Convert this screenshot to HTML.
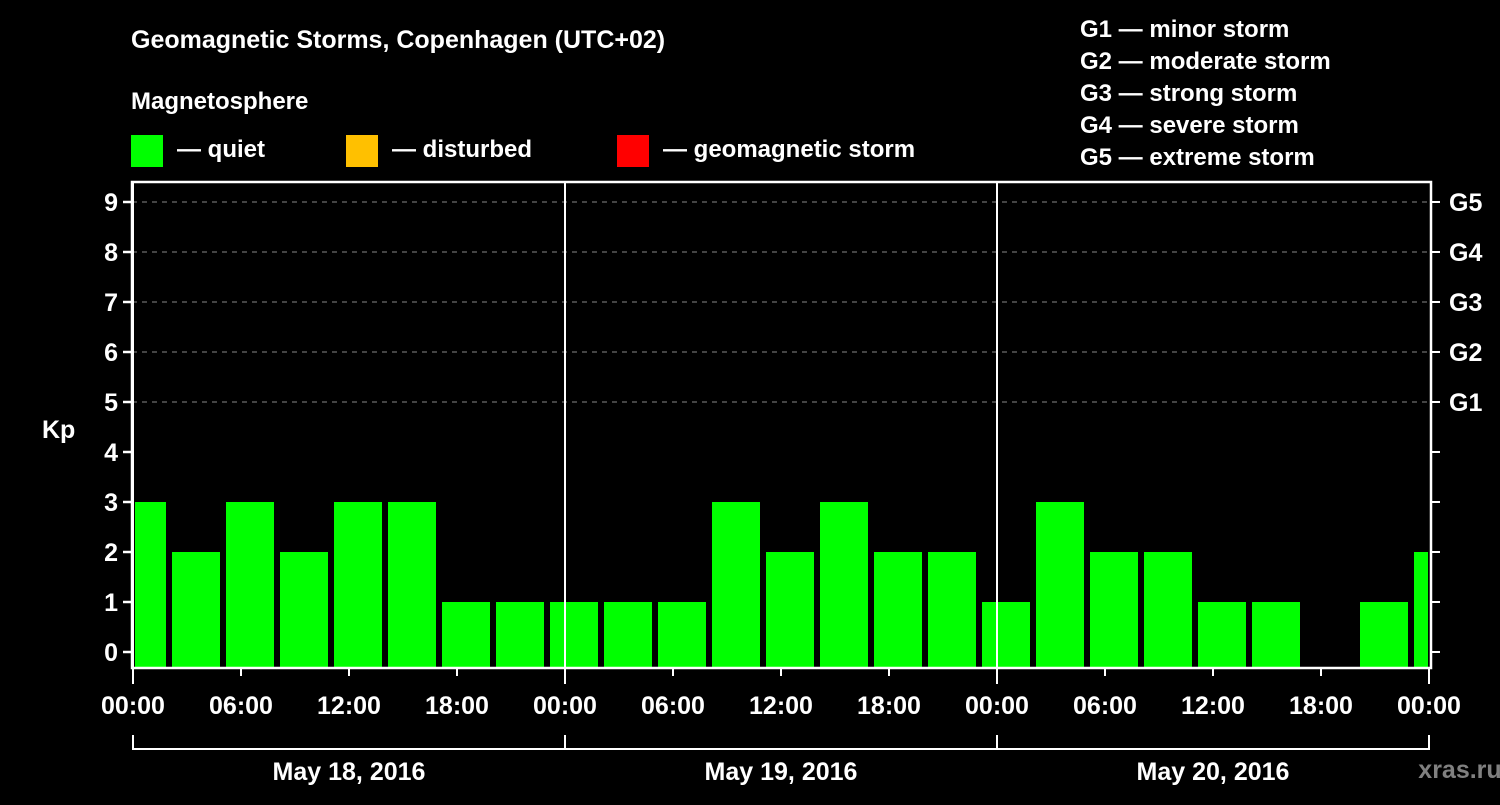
<!DOCTYPE html>
<html><head><meta charset="utf-8"><style>
body{margin:0;background:#000;width:1500px;height:800px;overflow:hidden;font-family:"Liberation Sans",sans-serif;}
svg text{font-family:"Liberation Sans",sans-serif;font-weight:bold;fill:#fff;}
</style></head><body>
<svg width="1500" height="800">
<text x="131" y="48" font-size="25">Geomagnetic Storms, Copenhagen (UTC+02)</text>
<text x="131" y="109" font-size="24">Magnetosphere</text>
<g>
<rect x="131" y="135" width="32" height="32" fill="#00ff00"/>
<text x="177" y="157" font-size="24">— quiet</text>
<rect x="346" y="135" width="32" height="32" fill="#ffc000"/>
<text x="392" y="157" font-size="24">— disturbed</text>
<rect x="617" y="135" width="32" height="32" fill="#ff0000"/>
<text x="663" y="157" font-size="24">— geomagnetic storm</text>
</g>
<g font-size="24">
<text x="1080" y="37">G1 — minor storm</text>
<text x="1080" y="69">G2 — moderate storm</text>
<text x="1080" y="101">G3 — strong storm</text>
<text x="1080" y="133">G4 — severe storm</text>
<text x="1080" y="165">G5 — extreme storm</text>
</g>
<text x="42" y="438" font-size="25">Kp</text>
<g id="grid"></g><g id="bars"></g><g id="axes"></g>
<text x="1460" y="778" font-size="25" fill="#808080" style="fill:#808080" text-anchor="middle">xras.ru</text>
</svg>
<script>
const kpValues=[3,2,3,2,3,3,1,1,1,1,1,3,2,3,2,2,1,3,2,2,1,1,0,1,2];
const slotStartHours=[-1,2,5,8,11,14,17,20,23,26,29,32,35,38,41,44,47,50,53,56,59,62,65,68,71];
const yTicks=[0,1,2,3,4,5,6,7,8,9];
const gLabels=["G1","G2","G3","G4","G5"];
const gLevels=[5,6,7,8,9];
const xTickLabels=["00:00","06:00","12:00","18:00","00:00","06:00","12:00","18:00","00:00","06:00","12:00","18:00","00:00"];
const dayLabels=["May 18, 2016","May 19, 2016","May 20, 2016"];
const NS="http://www.w3.org/2000/svg";
const L=132,R=1431,T=182,B=668;
const x=h=>133+h*(1429-133)/72;
const y=v=>652-v*50;
function mk(tag,attrs,parent){const e=document.createElementNS(NS,tag);for(const k in attrs)e.setAttribute(k,attrs[k]);document.getElementById(parent).appendChild(e);return e;}
yTicks.forEach(v=>{if(v>=5){const e=mk('line',{x1:L,x2:R,y1:y(v),y2:y(v),stroke:'#888','stroke-dasharray':'5,5','stroke-width':1},'grid');

}});
kpValues.forEach((v,i)=>{if(v<=0)return;const s=slotStartHours[i];let x1=Math.max(x(s)+3,L+3),x2=Math.min(x(s+3)-3,R-3);
const e=mk('rect',{x:x1,y:y(v),width:x2-x1,height:B-y(v),fill:v>=5?'#ff0000':(v>=4?'#ffc000':'#00ff00')},'bars');

});
const f=mk('rect',{x:L,y:T,width:R-L,height:B-T,fill:'none',stroke:'#fff','stroke-width':2.5},'axes');


yTicks.forEach(v=>{mk('line',{x1:L-9,x2:L,y1:y(v),y2:y(v),stroke:'#fff','stroke-width':2.5},'axes');
mk('line',{x1:R,x2:R+9,y1:y(v),y2:y(v),stroke:'#fff','stroke-width':2},'axes');
const t=mk('text',{x:L-14,y:y(v)+9,'font-size':25,'text-anchor':'end'},'axes');t.textContent=v;

});
gLabels.forEach((g,i)=>{const t=mk('text',{x:1449,y:y(gLevels[i])+9,'font-size':25},'axes');t.textContent=g;

});
for(let d=0;d<3;d++){const l=mk('line',{x1:x(d*24),x2:x(d*24),y1:T,y2:B,stroke:'#fff','stroke-width':2},'axes');

}
xTickLabels.forEach((s,i)=>{const h=i*6,xx=x(h);const big=i%4==0;
mk('line',{x1:xx,x2:xx,y1:B,y2:B+(big?16:8),stroke:'#fff','stroke-width':2},'axes');
const t=mk('text',{x:xx,y:714,'font-size':25,'text-anchor':'middle'},'axes');t.textContent=s;

});
mk('line',{x1:x(0),x2:x(72),y1:749,y2:749,stroke:'#fff','stroke-width':2},'axes');
for(let d=0;d<=3;d++)mk('line',{x1:x(d*24),x2:x(d*24),y1:735,y2:750,stroke:'#fff','stroke-width':2},'axes');
dayLabels.forEach((s,i)=>{const t=mk('text',{x:x(i*24+12),y:780,'font-size':25,'text-anchor':'middle'},'axes');t.textContent=s;

});
</script>
</body></html>
